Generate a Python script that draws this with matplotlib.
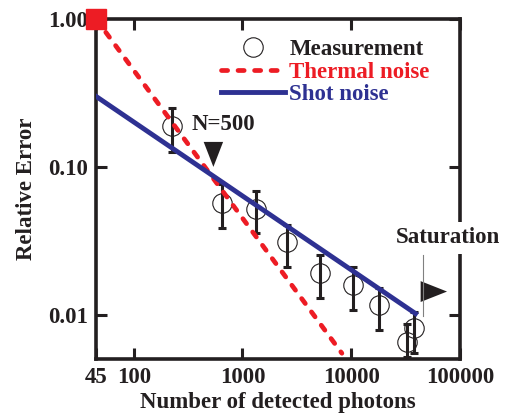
import matplotlib
matplotlib.use('Agg')
import matplotlib.pyplot as plt

plt.rcParams['font.family'] = ['Liberation Serif', 'DejaVu Serif']
plt.rcParams['font.weight'] = 'bold'
plt.rcParams['axes.labelweight'] = 'bold'
plt.rcParams['font.size'] = 16.5

RED = '#ED1C24'
BLUE = '#2E3192'
INK = '#231F20'

# measurements (number of detected photons, relative error, error bar limits)
meas_n = [226, 649, 1340, 2565, 5110, 10480, 18150, 32800, 38000]
meas_err = [0.188, 0.0574, 0.0523, 0.0313, 0.0191, 0.0160, 0.0117, 0.0066, 0.0082]
meas_hi = [0.249, 0.077, 0.0688, 0.0406, 0.0254, 0.0209, 0.0153, 0.00869, 0.0105]
meas_lo = [0.127, 0.0385, 0.0357, 0.0209, 0.0130, 0.0108, 0.00792, 0.0052, 0.00551]

# model lines (end points)
thermal_n = [45, 8200]
thermal_err = [1.0, 0.0055]
shot_n = [45, 39000]
shot_err = [0.30, 0.0102]

xticks = [45, 100, 1000, 10000, 100000]
xlabels = ['45', '100', '1000', '10000', '100000']
yticks = [0.01, 0.1, 1.0]
ylabels = ['0.01', '0.10', '1.00']

fig = plt.figure(figsize=(5.11, 4.19), dpi=100)
ax = fig.add_axes([0.1879, 0.1432, 0.7123, 0.8115])
ax.set_xscale('log')
ax.set_yscale('log')

yerr = [[e - l for e, l in zip(meas_err, meas_lo)],
        [h - e for e, h in zip(meas_err, meas_hi)]]
ax.errorbar(meas_n, meas_err, yerr=yerr, fmt='none', ecolor=INK,
            elinewidth=2.2, capsize=3.2, capthick=2.2, zorder=2)
ax.plot(meas_n, meas_err, 'o', mfc='none', mec=INK, ms=14, mew=0.8,
        zorder=3, label='Measurement')

ax.plot(thermal_n, thermal_err, color=RED, lw=3.4, dashes=(1.3, 2.2),
        dash_capstyle='round', zorder=4, label='Thermal noise')
ax.plot(shot_n, shot_err, color=BLUE, lw=3.5, zorder=5, label='Shot noise')
ax.plot([thermal_n[0]], [thermal_err[0]], 's', color=RED, ms=14.5,
        clip_on=False, zorder=6)

# N=500 marker
ax.text(343, 0.195, 'N=500', ha='left', va='center', color=INK)
ax.annotate('', xy=(540, 0.1), xytext=(540, 0.148),
            arrowprops=dict(arrowstyle='-|>,head_length=18,head_width=7',
                            mutation_scale=1, fc=INK, ec=INK,
                            lw=0, shrinkA=0, shrinkB=0))

# saturation flag
ax.text(78000, 0.0304, 'Saturation', ha='center', va='baseline',
        color=INK, clip_on=False, zorder=8,
        bbox=dict(fc='white', ec='none', pad=4))
ax.plot([45400, 45400], [0.00975, 0.0254], color='#808080', lw=0.8, zorder=6)
ax.annotate('', xy=(76000, 0.01437), xytext=(45400, 0.01437),
            arrowprops=dict(arrowstyle='-|>,head_length=19,head_width=7.5',
                            mutation_scale=1, fc=INK, ec=INK,
                            lw=0, shrinkA=0, shrinkB=0), annotation_clip=False)

ax.set_xlim(45, 100000)
ax.set_ylim(0.00503, 1.0)
ax.set_xticks(xticks)
ax.set_xticklabels(xlabels)
ax.set_yticks(yticks)
ax.set_yticklabels(ylabels)
ax.minorticks_off()
ax.tick_params(direction='in', length=8, width=2.2, top=True, right=True,
               pad=6, colors=INK)
for s in ax.spines.values():
    s.set_linewidth(2.6)
    s.set_color(INK)

ax.set_xlabel('Number of detected photons', labelpad=3, color=INK)
ax.set_ylabel('Relative Error', labelpad=8, color=INK)

ax.legend(loc='upper left', bbox_to_anchor=(0.3426, 0.94), frameon=False,
          borderpad=0, borderaxespad=0, handlelength=2.8, handletextpad=0.2,
          labelspacing=0.05, labelcolor=[INK, RED, BLUE], numpoints=1)

fig.savefig('out.png', dpi=100)
